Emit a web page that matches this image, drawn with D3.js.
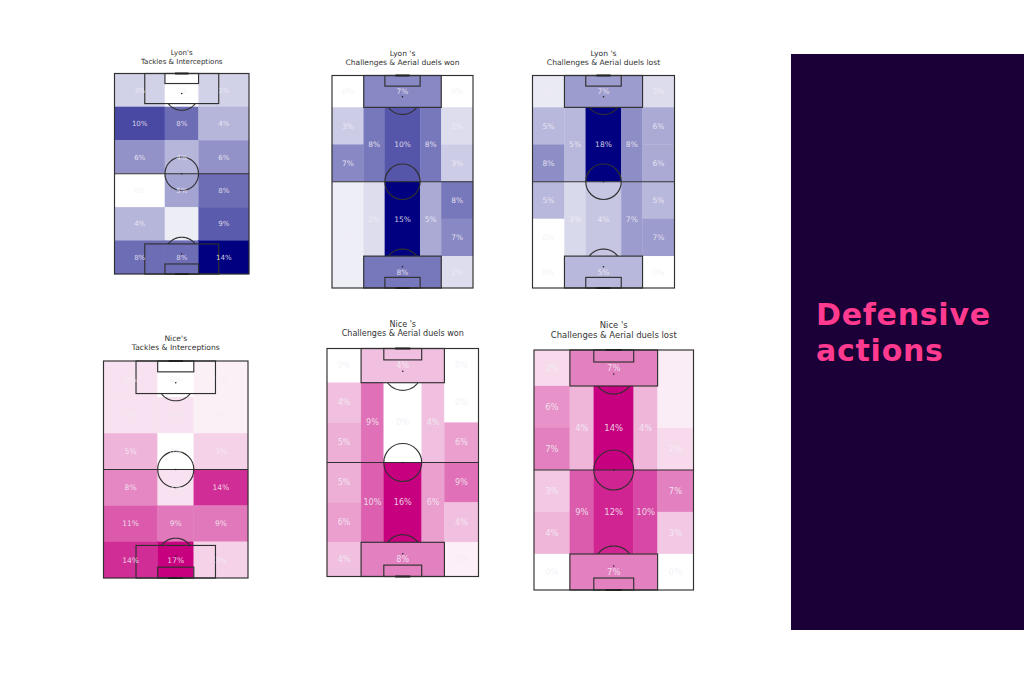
<!DOCTYPE html>
<html><head><meta charset="utf-8">
<script src="https://cdn.jsdelivr.net/npm/d3@7"></script>
<style>html,body{margin:0;padding:0;background:#fff}svg{display:block}</style>
</head><body><svg id="c" width="1024" height="683"></svg>
<script>
// Thirds grid: 6 rows x 3 columns, top to bottom
const lyonTackles = [[2.5,0,2.5],[10,8,4],[6,4,6],[0,5,8],[4,1,9],[8,8,14]];
const niceTackles = [[2,0,1],[2,2,1],[5,0,3],[8,2,14],[11,9,9],[14,17,3]];
// Positional grid: values listed in zone order (see positionalZones)
const lyonWon  = [0,7,0, 3,7,8,10,8,2,3, 1,1,2,15,5,8,7, 1,8,2];
const lyonLost = [1.5,7,2.5, 5,8,5,18,8,6,6, 5,0,2.7,4,7,5,7, 0,5,0];
const niceWon  = [0,4,0, 4,5,9,0,4,0,6, 5,6,10,16,6,9,4, 4,8,1];
const niceLost = [2,7,1, 6,7,4,14,4,1,2, 3,4,9,12,10,7,3, 0,7,0];
const teams = ["Lyon","Nice"];
const titleLines = ["Tackles & Interceptions","Challenges & Aerial duels won","Challenges & Aerial duels lost"];
const teamColors = {Lyon:"#000080",Nice:"#c7007f"};
const headline = ["Defensive","actions"];

// Pitch coordinates (80 wide, 120 long)
const thirdsX=[0,30,50,80], thirdsY=[0,20,40,60,80,100,120];
const positionalZones=[
 [0,18,0,18],[18,62,0,18],[62,80,0,18],
 [0,18,18,39],[0,18,39,60],[18,30,18,60],[30,50,18,60],[50,62,18,60],[62,80,18,39],[62,80,39,60],
 [0,18,60,81],[0,18,81,102],[18,30,60,102],[30,50,60,102],[50,62,60,102],[62,80,60,81],[62,80,81,102],
 [0,18,102,120],[18,62,102,120],[62,80,102,120]];
const thirdsZones=[];
for(let r=0;r<6;r++)for(let c=0;c<3;c++)thirdsZones.push([thirdsX[c],thirdsX[c+1],thirdsY[r],thirdsY[r+1]]);

const panels=[
 {team:"Lyon",t:0,vals:lyonTackles.flat(),zones:thirdsZones,box:[114.5,249,73.5,274],ty:[55,63.5],fs:7.05},
 {team:"Lyon",t:1,vals:lyonWon,zones:positionalZones,box:[332,473,75.5,288],ty:[56,64.5],fs:7.5},
 {team:"Lyon",t:2,vals:lyonLost,zones:positionalZones,box:[532.5,674.5,75.5,288],ty:[56,64.5],fs:7.6},
 {team:"Nice",t:0,vals:niceTackles.flat(),zones:thirdsZones,box:[103.5,248,361,578],ty:[340.5,349.5],fs:7.6},
 {team:"Nice",t:1,vals:niceWon,zones:positionalZones,box:[327,478.5,348.5,576.5],ty:[326.5,336],fs:8.05},
 {team:"Nice",t:2,vals:niceLost,zones:positionalZones,box:[534,693.5,350,590],ty:[327.5,337.5],fs:8.45}];

const svg=d3.select("#c");
const LINE="#303030";
panels.forEach(p=>{
 const x=d3.scaleLinear().domain([0,80]).range([p.box[0],p.box[1]]);
 const y=d3.scaleLinear().domain([0,120]).range([p.box[2],p.box[3]]);
 const col=d3.scaleLinear().domain([0,d3.max(p.vals)]).range(["#ffffff",teamColors[p.team]]);
 const g=svg.append("g");
 const data=p.zones.map((z,i)=>({z,v:p.vals[i]}));
 g.selectAll("rect.z").data(data).join("rect").attr("class","z")
  .attr("x",d=>x(d.z[0])).attr("y",d=>y(d.z[2]))
  .attr("width",d=>x(d.z[1])-x(d.z[0])).attr("height",d=>y(d.z[3])-y(d.z[2]))
  .attr("fill",d=>col(d.v)).attr("stroke",d=>col(d.v)).attr("stroke-width",.3);
 const line=d3.line().x(d=>x(d[0])).y(d=>y(d[1]));
 const stroke=s=>s.attr("fill","none").attr("stroke",LINE).attr("stroke-width",1.15);
 const rect=(a,b,c,d)=>stroke(g.append("rect").attr("x",x(a)).attr("y",y(c)).attr("width",x(b)-x(a)).attr("height",y(d)-y(c)));
 rect(0,80,0,120);
 rect(18,62,0,18);rect(18,62,102,120);
 rect(30,50,0,6);rect(30,50,114,120);
 stroke(g.append("path").attr("d",line([[0,60],[80,60]])));
 stroke(g.append("ellipse").attr("cx",x(40)).attr("cy",y(60)).attr("rx",x(10)-x(0)).attr("ry",y(10)-y(0)));
 // penalty arcs
 const arc=(cy,sign)=>{const pts=[];const a0=Math.acos(6/10);
  d3.range(-a0,a0+0.001,a0/20).forEach(t=>pts.push([40+10*Math.sin(t),cy+sign*10*Math.cos(t)]));
  stroke(g.append("path").attr("d",line(pts)));};
 arc(12,1);arc(108,-1);
 // goals
 [0,120].forEach(yy=>g.append("path").attr("d",line([[36,yy],[44,yy]])).attr("stroke","#222").attr("stroke-width",2));
 // spots
 [[40,12],[40,60],[40,108]].forEach(s=>g.append("circle").attr("cx",x(s[0])).attr("cy",y(s[1])).attr("r",.8).attr("fill","#222"));
 // labels
 g.selectAll("text.v").data(data).join("text").attr("class","v")
  .attr("x",d=>x((d.z[0]+d.z[1])/2)).attr("y",d=>y((d.z[2]+d.z[3])/2))
  .attr("dy","0.35em").attr("text-anchor","middle")
  .attr("font-family","DejaVu Sans").attr("font-size",p.fs)
  .attr("fill","#f3eef5").attr("fill-opacity",.85).text(d=>Math.round(d.v)+"%");
 // title
 const cx=(p.box[0]+p.box[1])/2;
 const first=p.t===0?p.team+"'s":p.team+" 's";
 [first,titleLines[p.t]].forEach((s,i)=>svg.append("text").attr("x",cx).attr("y",p.ty[i])
  .attr("text-anchor","middle").attr("font-family","DejaVu Sans").attr("font-size",p.fs).attr("fill","#333").text(s));
});
// Side panel
svg.append("rect").attr("x",791).attr("y",54).attr("width",233).attr("height",576).attr("fill","#1a0036");
const head=svg.append("text").attr("font-family","DejaVu Sans").attr("font-weight",700).attr("font-size",30)
 .attr("letter-spacing",.75).attr("fill","#ff3a8f");
headline.forEach((s,i)=>head.append("tspan").attr("x",816).attr("y",325+i*35.8).text(s));
</script></body></html>
